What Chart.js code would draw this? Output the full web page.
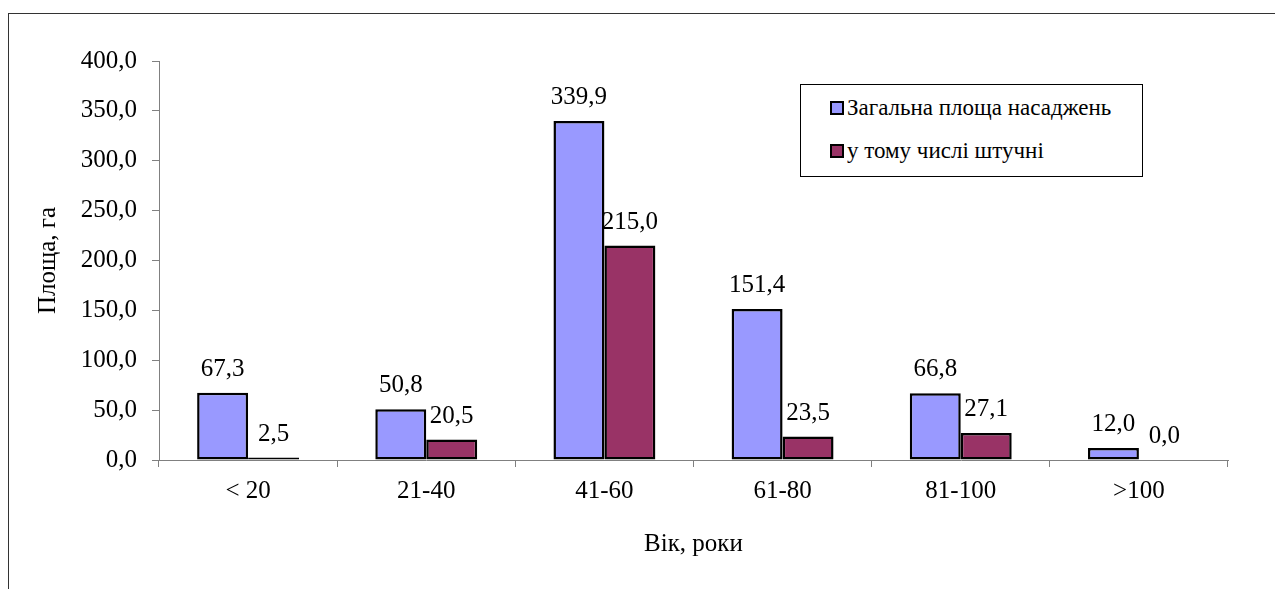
<!DOCTYPE html>
<html>
<head>
<meta charset="utf-8">
<script src="https://cdn.jsdelivr.net/npm/chart.js@4.4.1/dist/chart.umd.min.js"></script>
<style>
  html, body { margin: 0; padding: 0; background: #fff; }
  #wrap { position: relative; width: 1275px; height: 589px; overflow: hidden; }
  #frame { position: absolute; left: 8px; top: 13px; width: 1300px; height: 620px;
           border-top: 1px solid #333; border-left: 1px solid #333; }
  #chart { position: absolute; left: 0; top: 0; }
  #legend { position: absolute; left: 800px; top: 84px; width: 341px; height: 91px;
            border: 1px solid #000; background: #fff;
            font-family: 'Liberation Serif', 'Times New Roman', Times, serif; font-size: 23px; color: #000; }
  #legend .item { position: absolute; left: 29px; display: flex; align-items: center; white-space: nowrap; }
  #legend .box { width: 10px; height: 10px; border: 2px solid #000; margin-right: 3px; }
</style>
</head>
<body>
<div id="wrap">
  <div id="frame"></div>
  <canvas id="chart" width="1275" height="589"></canvas>
  <div id="legend"></div>
</div>
<script>
const categories = ['< 20', '21-40', '41-60', '61-80', '81-100', '>100'];
const totalArea = [67.3, 50.8, 339.9, 151.4, 66.8, 12.0];
const plantedArea = [2.5, 20.5, 215.0, 23.5, 27.1, 0.0];
const yTicks = [0, 50, 100, 150, 200, 250, 300, 350, 400];
const seriesNames = ['Загальна площа насаджень', 'у тому числі штучні'];
const seriesColors = ['#9999ff', '#993366'];

const FONT = "'Liberation Serif', 'Times New Roman', Times, serif";
const SIZE = 25;
const fmt = v => v.toFixed(1).replace('.', ',');

// value labels above every bar
const valueLabels = {
    id: 'valueLabels',
    afterDatasetsDraw(chart) {
        const ctx = chart.ctx;
        ctx.save();
        ctx.font = SIZE + 'px ' + FONT;
        ctx.fillStyle = '#000';
        ctx.textAlign = 'center';
        ctx.textBaseline = 'alphabetic';
        chart.data.datasets.forEach((ds, i) => {
            chart.getDatasetMeta(i).data.forEach((bar, j) => {
                ctx.fillText(fmt(ds.data[j]), bar.x, bar.y - 17);
            });
        });
        ctx.restore();
    }
};

const chart = new Chart(document.getElementById('chart'), {
    type: 'bar',
    data: {
        labels: categories,
        datasets: [
            { label: seriesNames[0], data: totalArea, backgroundColor: seriesColors[0] },
            { label: seriesNames[1], data: plantedArea, backgroundColor: seriesColors[1] }
        ]
    },
    options: {
        responsive: false,
        animation: false,
        devicePixelRatio: 1,
        layout: { padding: { top: 61, right: 47, left: 0, bottom: 0 } },
        datasets: {
            bar: {
                borderColor: '#000',
                borderWidth: 2.5,
                borderSkipped: false,
                categoryPercentage: 0.572,
                barPercentage: 1
            }
        },
        plugins: {
            legend: { display: false },
            tooltip: { enabled: false }
        },
        scales: {
            x: {
                afterFit: s => { s.height = 129; },
                grid: { drawOnChartArea: false, drawTicks: true, tickLength: 7, color: '#808080', offset: true },
                border: { color: '#808080', width: 1 },
                ticks: { color: '#000', font: { family: FONT, size: SIZE }, padding: 9, maxRotation: 0 },
                title: { display: true, text: 'Вік, роки', color: '#000',
                         font: { family: FONT, size: SIZE }, padding: { top: 0, bottom: 30 } }
            },
            y: {
                min: 0,
                max: 400,
                afterFit: s => { s.width = 159; },
                afterBuildTicks: s => { s.ticks = yTicks.map(v => ({ value: v })); },
                grid: { drawOnChartArea: false, drawTicks: true, tickLength: 7, color: '#808080' },
                border: { color: '#808080', width: 1 },
                ticks: { color: '#000', font: { family: FONT, size: SIZE }, padding: 15, callback: v => fmt(v) },
                title: { display: true, text: 'Площа, га', color: '#000',
                         font: { family: FONT, size: SIZE }, padding: { top: 33, bottom: 0 } }
            }
        }
    },
    plugins: [valueLabels]
});

// redraw once the serif face is surely loaded
if (document.fonts) {
    document.fonts.load(SIZE + "px 'Liberation Serif'").then(() => chart.update());
}

// legend built from the chart's datasets
const legendEl = document.getElementById('legend');
chart.data.datasets.forEach((ds, i) => {
    const item = document.createElement('div');
    item.className = 'item';
    item.style.top = (i === 0 ? 10 : 53) + 'px';
    const box = document.createElement('span');
    box.className = 'box';
    box.style.background = ds.backgroundColor;
    item.appendChild(box);
    item.appendChild(document.createTextNode(ds.label));
    legendEl.appendChild(item);
});
</script>
</body>
</html>
